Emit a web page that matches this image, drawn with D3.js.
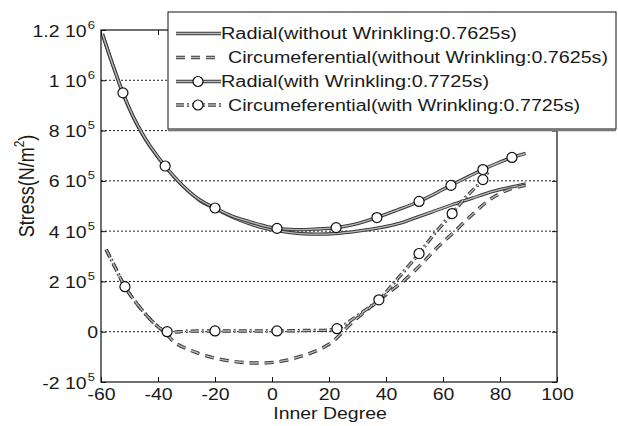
<!DOCTYPE html>
<html>
<head>
<meta charset="utf-8">
<script src="https://cdn.jsdelivr.net/npm/d3@7"></script>
<style>
  html, body { margin: 0; padding: 0; background: #fff; }
  svg { display: block; }
  text { font-family: "Liberation Sans", Arial, sans-serif; fill: #1a1a1a; }
</style>
</head>
<body>
<svg id="chart" width="618" height="426"></svg>
<script>
// ---------------- DATA ----------------
const xTicks = [-60, -40, -20, 0, 20, 40, 60, 80, 100];
const xTickLabels = ["-60", "-40", "-20", "0", "20", "40", "60", "80", "100"];
const yTicks = [-2e5, 0, 2e5, 4e5, 6e5, 8e5, 1e6, 1.2e6];
const yTickBase = ["-2 10", "0", "2 10", "4 10", "6 10", "8 10", "1 10", "1.2 10"];
const yTickExp = ["5", "", "5", "5", "5", "5", "6", "6"];
const yGridValues = [0, 2e5, 4e5, 6e5, 8e5, 1e6];

const legendLabels = [
  "Radial(without Wrinkling:0.7625s)",
  "Circumeferential(without Wrinkling:0.7625s)",
  "Radial(with Wrinkling:0.7725s)",
  "Circumeferential(with Wrinkling:0.7725s)"
];

// Radial stress, without wrinkling (solid)
const radialWithout = [
  [-59.5, 1184000], [-56.1, 1069000], [-52.3, 948000], [-48.8, 856000], [-45.6, 788000],
  [-42.8, 737000], [-37.5, 657000], [-31.2, 578000], [-25.3, 522000], [-20, 490000],
  [-14, 456000], [-8, 430000], [-2, 410000], [4, 398000], [10, 390000],
  [16, 388000], [22, 390000], [30, 400000], [38, 414000], [45, 432000],
  [50, 452000], [56, 476000], [63, 504000], [70, 530000], [76, 553000],
  [83, 573000], [89, 588000]
];

// Circumferential stress, without wrinkling (dashed)
const circWithout = [
  [-58.2, 327000], [-55, 255000], [-51.6, 179000], [-48, 120000], [-44, 65000],
  [-40, 20000], [-37, -10000], [-34, -44000], [-29, -72000], [-23, -96000],
  [-16, -114000], [-9, -123000], [-2, -124000], [4, -116000], [10, -98000],
  [16, -74000], [21, -42000], [24, -10000], [27, 25000], [31, 65000],
  [37, 120000], [42, 165000], [46, 200000], [52.6, 271000], [58, 335000],
  [64, 398000], [70.5, 468000], [76.5, 526000], [83, 565000], [89, 582000]
];

// Radial stress, with wrinkling (solid + circle markers)
const radialWith = [
  [-59.5, 1184000], [-56.1, 1069000], [-52.3, 950000], [-48.8, 858000], [-45.6, 790000],
  [-42.8, 739000], [-37.5, 659000], [-31.2, 580000], [-25.3, 524000], [-20, 492000],
  [-14, 460000], [-8, 438000], [-2, 419000], [1.75, 411000], [8, 406000],
  [15, 408000], [22.5, 414000], [30, 430000], [36.8, 454000], [44, 484000],
  [51.6, 518000], [57, 548000], [62.8, 582000], [68, 612000], [74, 645000],
  [79, 670000], [84.2, 693000], [89, 709000]
];
const radialWithMarkers = [
  [-52.3, 950000], [-37.5, 659000], [-20, 492000], [1.75, 411000], [22.5, 414000],
  [36.8, 454000], [51.6, 518000], [62.8, 582000], [74, 645000], [84.2, 693000]
];

// Circumferential stress, with wrinkling (dash-dot + circle markers)
const circWith = [
  [-58.2, 327000], [-55, 255000], [-51.6, 179000], [-48, 120000], [-44, 65000],
  [-40, 20000], [-36.8, 0], [-30, 2000], [-20, 3000], [-10, 3000],
  [1.75, 3000], [12, 5000], [22.8, 12000], [27, 40000], [32, 80000],
  [37.5, 127000], [44, 210000], [51.6, 311000], [57, 390000], [63.2, 470000],
  [68, 535000], [74, 605000], [76, 640000]
];
const circWithMarkers = [
  [-51.6, 179000], [-36.8, 0], [-20, 3000], [1.75, 3000], [22.8, 12000],
  [37.5, 127000], [51.6, 311000], [63.2, 470000], [74, 605000]
];

// ---------------- CHART ----------------
const svg = d3.select("#chart");
const L = 101, R = 557, T = 30, B = 382;
const x = d3.scaleLinear().domain([-60, 100]).range([L, R]);
const y = d3.scaleLinear().domain([-2e5, 1.2e6]).range([B, T]);
const SX = 1.18; // horizontal stretch of the scanned glyphs

svg.append("rect").attr("width", 618).attr("height", 426).attr("fill", "#fff");

svg.append("defs").append("clipPath").attr("id", "plotclip")
  .append("rect").attr("x", L).attr("y", T).attr("width", R - L).attr("height", B - T);

// grid
svg.append("g").selectAll("line").data(yGridValues).join("line")
  .attr("x1", L).attr("x2", R).attr("y1", d => y(d)).attr("y2", d => y(d))
  .attr("stroke", "#222").attr("stroke-width", 1).attr("stroke-dasharray", "2,2");

const line = d3.line().x(d => x(d[0])).y(d => y(d[1])).curve(d3.curveCatmullRom.alpha(0.5));
const plot = svg.append("g").attr("clip-path", "url(#plotclip)");

function drawStyled(g, d, dash) {
  g.append("path").attr("d", d).attr("fill", "none").attr("stroke", "#3a3a3a")
    .attr("stroke-width", 3.4).attr("stroke-dasharray", dash);
  g.append("path").attr("d", d).attr("fill", "none").attr("stroke", "#b8b8b8")
    .attr("stroke-width", 1.4).attr("stroke-dasharray", dash);
}
const DASH = "9,6", DASHDOT = "8,3,2,3";

drawStyled(plot, line(radialWithout), null);
drawStyled(plot, line(radialWith), null);
drawStyled(plot, line(circWithout), DASH);
drawStyled(plot, line(circWith), DASHDOT);

function drawMarkers(data) {
  plot.append("g").selectAll("circle").data(data).join("circle")
    .attr("cx", d => x(d[0])).attr("cy", d => y(d[1])).attr("r", 5)
    .attr("fill", "#fff").attr("stroke", "#111").attr("stroke-width", 1.2);
}
drawMarkers(radialWithMarkers);
drawMarkers(circWithMarkers);

// frame
svg.append("rect").attr("x", L).attr("y", T).attr("width", R - L).attr("height", B - T)
  .attr("fill", "none").attr("stroke", "#111").attr("stroke-width", 1.2);

// axes
const gX = svg.append("g").attr("transform", `translate(0,${B})`)
  .call(d3.axisBottom(x).tickValues(xTicks).tickSize(-5).tickSizeOuter(0).tickPadding(6)
    .tickFormat((d, i) => xTickLabels[i]));
gX.select(".domain").remove();
gX.selectAll(".tick line").attr("stroke", "#111");
gX.selectAll(".tick text").attr("font-size", 16.5).attr("font-family", null)
  .attr("fill", "#1a1a1a").attr("transform", `scale(${SX},1)`);

svg.append("g").attr("transform", `translate(0,${T})`)
  .call(d3.axisTop(x).tickValues(xTicks).tickSize(-5).tickSizeOuter(0).tickFormat(""))
  .call(g => g.select(".domain").remove())
  .selectAll(".tick line").attr("stroke", "#111");

svg.append("g").attr("transform", `translate(${R},0)`)
  .call(d3.axisRight(y).tickValues(yTicks).tickSize(-5).tickSizeOuter(0).tickFormat(""))
  .call(g => g.select(".domain").remove())
  .selectAll(".tick line").attr("stroke", "#111");

const gY = svg.append("g").attr("transform", `translate(${L},0)`)
  .call(d3.axisLeft(y).tickValues(yTicks).tickSize(-5).tickSizeOuter(0).tickFormat(""));
gY.select(".domain").remove();
gY.selectAll(".tick line").attr("stroke", "#111");
gY.selectAll(".tick text").remove();
gY.selectAll(".tick").each(function (d, i) {
  const off = yTickExp[i] ? -6 : -3;
  const t = d3.select(this).append("text")
    .attr("transform", `translate(${off},6) scale(${SX},1)`)
    .attr("text-anchor", "end").attr("font-size", 16.5).attr("fill", "#1a1a1a");
  t.append("tspan").text(yTickBase[i]);
  if (yTickExp[i]) {
    t.append("tspan").attr("font-size", 11).attr("dy", -8).attr("dx", 1).text(yTickExp[i]);
  }
});

// axis titles
svg.append("text").attr("transform", `translate(330,419) scale(${SX},1)`)
  .attr("text-anchor", "middle").attr("font-size", 16.5).text("Inner Degree");

const yl = svg.append("text").attr("transform", "translate(34,186) rotate(-90) scale(1,1.2)")
  .attr("text-anchor", "middle").attr("font-size", 18);
yl.append("tspan").text("Stress(N/m");
yl.append("tspan").attr("font-size", 12).attr("dy", -8).text("2");
yl.append("tspan").attr("dy", 8).text(")");

// legend
const lg = svg.append("g");
lg.append("rect").attr("x", 168).attr("y", 12).attr("width", 448).attr("height", 117)
  .attr("fill", "#fff").attr("stroke", "#111").attr("stroke-width", 1);
lg.append("line").attr("x1", 168).attr("x2", 616).attr("y1", 130).attr("y2", 130)
  .attr("stroke", "#777").attr("stroke-width", 2.5);

const rowY = [33.5, 57.5, 81.5, 105];
const rowTextX = [221, 228, 221, 228];
const rowTextLen = [296, 380, 268, 352];
const rowDash = [null, DASH, null, DASHDOT];
const rowMarker = [false, false, true, true];
legendLabels.forEach((lab, i) => {
  const yy = rowY[i];
  drawStyled(lg, `M176,${yy}H221`, rowDash[i]);
  if (rowMarker[i]) {
    lg.append("circle").attr("cx", 198).attr("cy", yy).attr("r", 5)
      .attr("fill", "#fff").attr("stroke", "#111").attr("stroke-width", 1.2);
  }
  lg.append("text").attr("x", rowTextX[i]).attr("y", yy + 5.8)
    .attr("font-size", 16).attr("textLength", rowTextLen[i])
    .attr("lengthAdjust", "spacingAndGlyphs").text(lab);
});
</script>
</body>
</html>
